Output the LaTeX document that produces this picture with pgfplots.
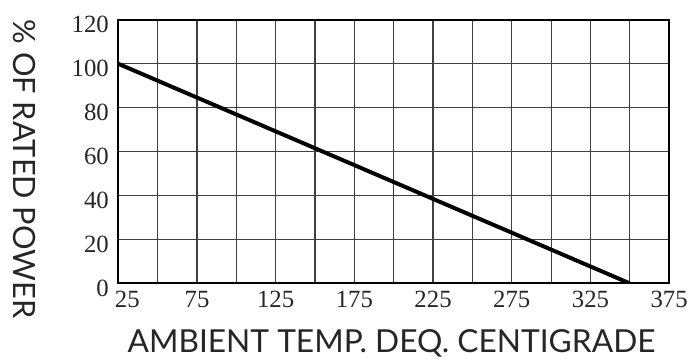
\documentclass[border=0pt]{standalone}
\usepackage{fontspec}
\setmainfont{Lato}
\newfontfamily\numfont{Liberation Serif}
\usepackage{pgfplots}
\pgfplotsset{compat=1.18}
\begin{document}
\begin{tikzpicture}
\begin{axis}[
  scale only axis, width=554bp, height=265bp,
  xmin=25, xmax=375, ymin=0, ymax=120,
  xtick={25,75,...,375}, minor xtick={50,100,...,350},
  xticklabels={\hspace{18bp}25,75,125,175,225,275,325,375\hspace{10bp}},
  ytick={0,20,...,120},
  grid=both,
  major grid style={black!75, line width=1.2bp},
  minor grid style={black!75, line width=1.2bp},
  axis line style={line width=1.8bp},
  major tick length=0pt, minor tick length=0pt,
  tick label style={font=\numfont\fontsize{25}{25}\selectfont, text=black!85},
  /pgf/number format/assume math mode=true,
  xticklabel style={yshift=-4bp},
  yticklabel style={xshift=-6bp, yshift=-5bp},
  xlabel={AMBIENT TEMP. DEQ. CENTIGRADE},
  ylabel={\% OF RATED POWER},
  every axis x label/.style={at={(axis description cs:0.496,-0.262)}, anchor=base, font=\fontsize{32}{32}\selectfont, text=black!85},
  every axis y label/.style={at={(axis description cs:-0.191,0.434)}, rotate=-90, anchor=base, font=\fontsize{31}{31}\selectfont, text=black!85},
]
\addplot[black, line width=4bp] coordinates {(25,100) (350,0)};
\end{axis}
\path ([shift={(-119bp,-76bp)}]current axis.south west) rectangle ([shift={(18bp,20bp)}]current axis.north east);
\end{tikzpicture}
\end{document}
